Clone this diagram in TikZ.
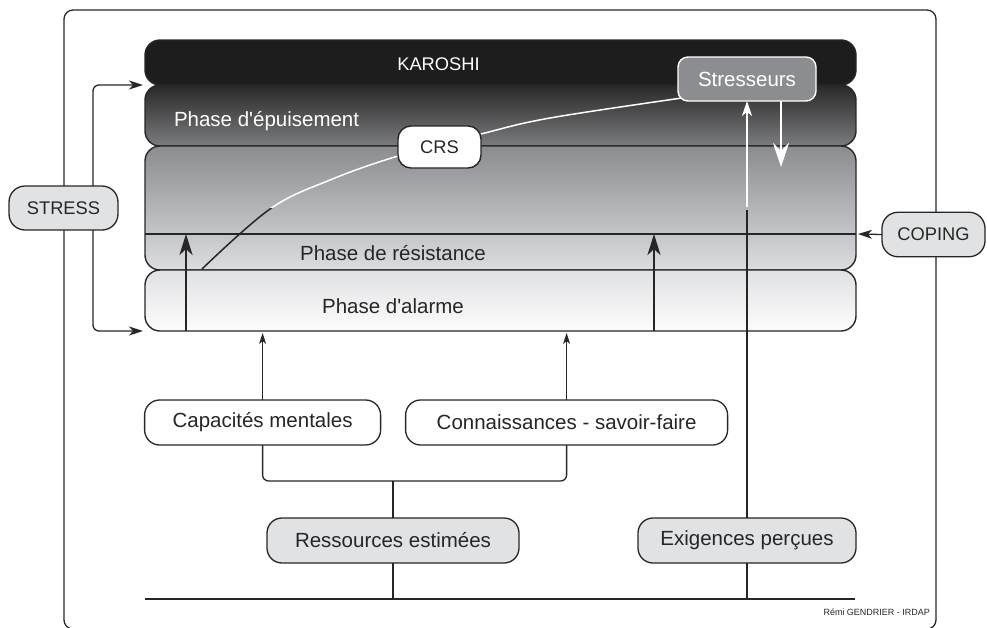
\documentclass[tikz,border=0pt]{standalone}
\usepackage{fontspec}
\setmainfont{Liberation Sans}
\usetikzlibrary{arrows.meta,calc}

\definecolor{ink}{HTML}{262626}
\definecolor{boxgray}{HTML}{E1E2E4}
\definecolor{stressgray}{HTML}{8C8D90}
\definecolor{karoshiblack}{HTML}{1D1D1D}
\definecolor{epuisTop}{HTML}{282828}
\definecolor{epuisBot}{HTML}{7B7C7E}
\definecolor{resTop}{HTML}{8B8C8F}
\definecolor{resBot}{HTML}{DCDDE0}
\definecolor{alaTop}{HTML}{E0E1E3}
\definecolor{alaBot}{HTML}{FCFCFC}

\begin{document}
\begin{tikzpicture}[x=1pt,y=-1pt,
  every node/.style={inner sep=0pt,outer sep=0pt},
  lbl/.style={font=\fontsize{20.5}{24}\selectfont,text=ink},
  capslbl/.style={font=\fontsize{18.3}{22}\selectfont,text=ink},
  band/.style={draw=ink,line width=1.4pt,rounded corners=15pt,minimum width=711pt},
  pill/.style={draw=ink,line width=1.3pt,rounded corners=15pt,minimum height=45pt,lbl},
  thinline/.style={draw=ink,line width=1.3pt},
  bigarrow/.style={draw=ink,line width=2.6pt,-{Stealth[length=21pt,width=13pt,inset=6pt]}},
  smallarrow/.style={draw=ink,line width=1.2pt,-{Stealth[length=11pt,width=7pt,inset=3pt]}},
  sidearrow/.style={draw=ink,line width=1.3pt,-{Stealth[length=14pt,width=9pt,inset=4pt]}},
  crscurve/.style={line width=1.5pt},
]
\useasboundingbox (0,0) rectangle (987,627);

% outer frame
\draw[thinline,rounded corners=9pt] (64,10) rectangle (936,629);

% stacked phase bands
\node[band,fill=karoshiblack,minimum height=45pt] (karoshi) at (500.5,62.5) {};
\node[band,top color=epuisTop,bottom color=epuisBot,minimum height=61pt] (epuis) at (500.5,115.5) {};
\node[band,top color=resTop,bottom color=resBot,minimum height=124pt] (resist) at (500.5,208) {};
\node[band,top color=alaTop,bottom color=alaBot,minimum height=61pt] (alarme) at (500.5,300.5) {};

% resistance threshold
\coordinate (lineY) at (0,234);
\draw[ink,line width=2.2pt] (resist.west |- lineY) -- (resist.east |- lineY);

% CRS curve: white over the dark part, black over the light part
\coordinate (crvA) at (202,269);
\coordinate (crvB) at (682,98);
\newcommand\crspath{plot[smooth,tension=0.6] coordinates {(crvA) (270,209) (330,180) (398,156) (481,134) (550,118) (crvB)}}
\begin{scope}
  \clip (0,0) rectangle (987,208);
  \draw[crscurve,white] \crspath;
\end{scope}
\begin{scope}
  \clip (0,208) rectangle (987,627);
  \draw[crscurve,ink] \crspath;
\end{scope}

\node[draw=ink,fill=white,line width=1.4pt,rounded corners=13pt,
      minimum width=83pt,minimum height=42pt,capslbl] (crs) at (439.5,147) {CRS};
\node[draw=white,fill=stressgray,line width=1.4pt,rounded corners=10pt,
      minimum width=138pt,minimum height=44pt,lbl,text=white] (stresseurs) at (747,79) {Stresseurs};

% band labels
\node[capslbl,text=white] at (438.5,64) {KAROSHI};
\node[lbl,text=white,anchor=west] at (174,121) {Phase d\textquotesingle épuisement};
\node[lbl] at (393,253) {Phase de résistance};
\node[lbl] at (393,306) {Phase d\textquotesingle alarme};

% thick upward arrows
\coordinate (axL) at (186,0);
\coordinate (axR) at (654,0);
\draw[bigarrow] (alarme.south -| axL) -- (lineY -| axL);
\draw[bigarrow] (alarme.south -| axR) -- (lineY -| axR);

% lower boxes
\node[pill,fill=white,minimum width=236pt] (cap) at (262.6,422.5) {Capacités mentales};
\node[pill,fill=white,minimum width=322pt] (conn) at (566.6,422.5) {Connaissances - savoir-faire};
\node[pill,fill=boxgray,minimum width=252pt] (ress) at (393,540.5) {Ressources estimées};
\node[pill,fill=boxgray,minimum width=218pt] (exig) at (747,540.5) {Exigences perçues};

% stressor loop
\coordinate (wEnd) at (0,207);
\coordinate (bStart) at (0,210);
\draw[line width=1.4pt,white,-{Stealth[length=15pt,width=10pt,inset=4pt]}]
  (exig.north |- wEnd) -- (stresseurs.south);
\draw[line width=1.4pt,ink] (exig.north) -- (exig.north |- bStart);
\coordinate (dnEnd) at (781,167);
\draw[line width=2pt,white,-{Stealth[length=24pt,width=16pt,inset=8pt]}]
  (stresseurs.south -| dnEnd) -- (dnEnd);

% resources feeding the phases
\draw[smallarrow,shorten >=2pt] (cap.north) -- (cap.north |- alarme.south);
\draw[smallarrow,shorten >=2pt] (conn.north) -- (conn.north |- alarme.south);
\coordinate (brkY) at (0,481);
\draw[thinline,rounded corners=6pt] (cap.south) -- (cap.south |- brkY) -- (conn.south |- brkY) -- (conn.south);
\draw[thinline] (ress.north) -- (ress.north |- brkY);

% base line
\coordinate (baseL) at (145,599);
\coordinate (baseR) at (855,599);
\draw[thinline] (baseL) -- (baseR);
\draw[thinline] (ress.south) -- (ress.south |- baseL);
\draw[thinline] (exig.south) -- (exig.south |- baseL);

% STRESS and COPING
\node[draw=ink,fill=boxgray,line width=1.3pt,rounded corners=16pt,
      minimum width=109pt,minimum height=44pt,capslbl] (stress) at (63.5,208) {STRESS};
\node[draw=ink,fill=boxgray,line width=1.3pt,rounded corners=16pt,
      minimum width=103pt,minimum height=44.5pt,capslbl] (coping) at (933.5,234.5) {COPING};
\coordinate (sx) at (93,0);
\draw[sidearrow,rounded corners=6pt] (stress.north -| sx) |- ([xshift=-2pt]karoshi.south west);
\draw[sidearrow,rounded corners=6pt] (stress.south -| sx) |- ([xshift=-2pt]alarme.south west);
\draw[sidearrow] (coping.west) -- ([xshift=2pt]resist.east |- lineY);

% credit
\node[font=\fontsize{9}{10}\selectfont,text=ink,anchor=east] at (930,612) {Rémi GENDRIER - IRDAP};
\end{tikzpicture}
\end{document}
